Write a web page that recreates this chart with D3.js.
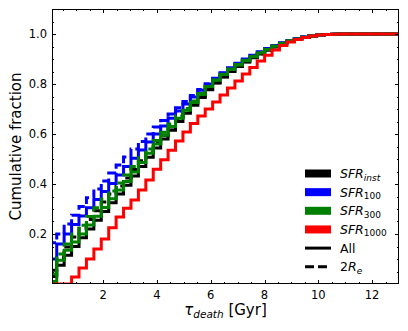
<!DOCTYPE html>
<html>
<head>
<meta charset="utf-8">
<script src="https://cdn.jsdelivr.net/npm/d3@7"></script>
<style>
  body { margin: 0; background: #fff; }
  svg { display: block; font-family: "DejaVu Sans", sans-serif; }
</style>
</head>
<body>
<svg id="chart" width="408" height="331"></svg>
<script>
// bin edges of the cumulative histograms (Gyr)
var binEdges = [0, 0.276, 0.552, 0.828, 1.104, 1.38, 1.656, 1.932, 2.208, 2.484, 2.76, 3.036,
  3.312, 3.588, 3.864, 4.14, 4.416, 4.692, 4.968, 5.244, 5.52, 5.796, 6.072, 6.348, 6.624,
  6.9, 7.176, 7.452, 7.728, 8.004, 8.28, 8.556, 8.832, 9.108, 9.384, 9.66, 9.936, 10.212,
  10.488, 10.764, 11.04, 11.316, 11.592, 11.868, 12.144, 12.42, 12.696, 12.972, 13.248];

// cumulative fraction in each bin
var instAll = [0.030, 0.075, 0.115, 0.150, 0.185, 0.220, 0.255, 0.290, 0.325, 0.360, 0.395, 0.432,
  0.470, 0.507, 0.544, 0.580, 0.615, 0.650, 0.683, 0.715, 0.746, 0.777, 0.804, 0.828, 0.850,
  0.870, 0.888, 0.905, 0.920, 0.935, 0.948, 0.960, 0.970, 0.979, 0.986, 0.992, 0.996, 0.998,
  0.999, 1, 1, 1, 1, 1, 1, 1, 1, 1];
var inst2Re = [0.055, 0.105, 0.148, 0.188, 0.223, 0.258, 0.293, 0.328, 0.360, 0.392, 0.424, 0.458,
  0.493, 0.528, 0.562, 0.595, 0.628, 0.660, 0.690, 0.720, 0.750, 0.778, 0.805, 0.829, 0.851,
  0.871, 0.889, 0.906, 0.921, 0.936, 0.949, 0.961, 0.971, 0.980, 0.987, 0.992, 0.996, 0.998,
  0.999, 1, 1, 1, 1, 1, 1, 1, 1, 1];
var sfr100All = [0.100, 0.160, 0.200, 0.238, 0.272, 0.305, 0.338, 0.370, 0.402, 0.436, 0.470, 0.503,
  0.536, 0.568, 0.600, 0.632, 0.663, 0.692, 0.720, 0.748, 0.775, 0.800, 0.823, 0.845, 0.865,
  0.883, 0.900, 0.915, 0.929, 0.942, 0.954, 0.965, 0.974, 0.982, 0.988, 0.993, 0.996, 0.998,
  0.999, 1, 1, 1, 1, 1, 1, 1, 1, 1];
var sfr1002Re = [0.165, 0.200, 0.240, 0.275, 0.310, 0.345, 0.380, 0.412, 0.444, 0.476, 0.508, 0.540,
  0.570, 0.600, 0.628, 0.654, 0.680, 0.705, 0.730, 0.754, 0.778, 0.800, 0.822, 0.843, 0.862,
  0.880, 0.897, 0.912, 0.926, 0.940, 0.952, 0.963, 0.973, 0.981, 0.988, 0.993, 0.996, 0.998,
  0.999, 1, 1, 1, 1, 1, 1, 1, 1, 1];
var sfr300All = [0.010, 0.095, 0.135, 0.168, 0.200, 0.236, 0.271, 0.306, 0.341, 0.376, 0.410, 0.448,
  0.486, 0.523, 0.560, 0.595, 0.630, 0.663, 0.695, 0.726, 0.758, 0.790, 0.815, 0.838, 0.858,
  0.876, 0.893, 0.909, 0.924, 0.938, 0.951, 0.962, 0.972, 0.980, 0.987, 0.992, 0.996, 0.998,
  0.999, 1, 1, 1, 1, 1, 1, 1, 1, 1];
var sfr3002Re = [0.040, 0.120, 0.160, 0.200, 0.235, 0.270, 0.305, 0.340, 0.372, 0.404, 0.436, 0.470,
  0.505, 0.540, 0.574, 0.607, 0.640, 0.672, 0.702, 0.732, 0.762, 0.790, 0.816, 0.839, 0.860,
  0.878, 0.895, 0.911, 0.926, 0.940, 0.952, 0.963, 0.973, 0.981, 0.987, 0.992, 0.996, 0.998,
  0.999, 1, 1, 1, 1, 1, 1, 1, 1, 1];
var sfr1000All = [0, 0, 0, 0.028, 0.064, 0.100, 0.140, 0.180, 0.225, 0.268, 0.303, 0.336,
  0.376, 0.416, 0.459, 0.497, 0.535, 0.572, 0.608, 0.642, 0.672, 0.700, 0.728, 0.756, 0.784,
  0.812, 0.840, 0.866, 0.892, 0.915, 0.936, 0.954, 0.968, 0.978, 0.986, 0.992, 0.996, 0.998,
  0.999, 1, 1, 1, 1, 1, 1, 1, 1, 1];

var xTicks = [2, 4, 6, 8, 10, 12];
var yTicks = [0.2, 0.4, 0.6, 0.8, 1.0];

(function () {
  var series = [
    { vals: instAll, color: "#000000", dash: null },
    { vals: inst2Re, color: "#000000", dash: "9,4" },
    { vals: sfr100All, color: "#0000ff", dash: null },
    { vals: sfr1002Re, color: "#0000ff", dash: "9,4" },
    { vals: sfr300All, color: "#008000", dash: null },
    { vals: sfr3002Re, color: "#008000", dash: "9,4" },
    { vals: sfr1000All, color: "#ff0000", dash: null }
  ];

  var m = { left: 52, right: 399, top: 9, bottom: 284 };

  var x = d3.scaleLinear().domain([0.1, 13]).range([m.left, m.right]);
  var y = d3.scaleLinear().domain([0, 1.1]).range([m.bottom, m.top]);

  var svg = d3.select("#chart");

  svg.append("clipPath").attr("id", "clip")
    .append("rect")
    .attr("x", m.left).attr("y", m.top)
    .attr("width", m.right - m.left).attr("height", m.bottom - m.top);

  var line = d3.line()
    .x(d => x(d[0]))
    .y(d => y(d[1]))
    .curve(d3.curveStepAfter);

  var g = svg.append("g").attr("clip-path", "url(#clip)");

  series.forEach(function (s) {
    var pts = s.vals.map((v, i) => [binEdges[i], v]);
    pts.unshift([binEdges[0], 0]);
    pts.push([binEdges[s.vals.length], s.vals[s.vals.length - 1]]);
    g.append("path")
      .attr("d", line(pts))
      .attr("fill", "none")
      .attr("stroke", s.color)
      .attr("stroke-width", 3)
      .attr("stroke-dasharray", s.dash);
  });

  // ticks, pointing inward on all four sides
  var xMinor = d3.range(0.5, 13, 0.5);
  var yMinor = d3.range(1, 22).map(i => i * 0.05);
  var ticks = svg.append("g").attr("stroke", "#000").attr("stroke-width", 1);

  xMinor.forEach(function (t) {
    var len = xTicks.indexOf(t) >= 0 ? 4 : 2;
    var px = Math.round(x(t)) + 0.5;
    ticks.append("line").attr("x1", px).attr("x2", px).attr("y1", m.bottom).attr("y2", m.bottom - len);
    ticks.append("line").attr("x1", px).attr("x2", px).attr("y1", m.top).attr("y2", m.top + len);
  });
  yMinor.forEach(function (t) {
    var major = yTicks.some(v => Math.abs(v - t) < 1e-6);
    var len = major ? 4 : 2;
    var py = Math.round(y(t)) + 0.5;
    ticks.append("line").attr("y1", py).attr("y2", py).attr("x1", m.left).attr("x2", m.left + len);
    ticks.append("line").attr("y1", py).attr("y2", py).attr("x1", m.right).attr("x2", m.right - len);
  });

  svg.append("rect")
    .attr("x", m.left + 0.5).attr("y", m.top + 0.5)
    .attr("width", m.right - m.left - 1).attr("height", m.bottom - m.top - 1)
    .attr("fill", "none").attr("stroke", "#000").attr("stroke-width", 1);

  svg.selectAll(".xlab").data(xTicks).enter().append("text")
    .attr("x", d => x(d)).attr("y", 299)
    .attr("text-anchor", "middle").attr("font-size", 11.5)
    .text(d => d);

  svg.selectAll(".ylab").data(yTicks).enter().append("text")
    .attr("x", 47).attr("y", d => y(d) + 4)
    .attr("text-anchor", "end").attr("font-size", 11.5)
    .text(d => d.toFixed(1));

  svg.append("text")
    .attr("transform", "translate(21," + (m.top + m.bottom) / 2 + ")rotate(-90)")
    .attr("text-anchor", "middle").attr("font-size", 15)
    .text("Cumulative fraction");

  var xl = svg.append("text")
    .attr("x", (m.left + m.right) / 2).attr("y", 315)
    .attr("text-anchor", "middle").attr("font-size", 15);
  xl.append("tspan").attr("font-style", "italic").text("τ");
  xl.append("tspan").attr("font-style", "italic").attr("font-size", 10.5).attr("dy", 3).text("death");
  xl.append("tspan").attr("dy", -3).text(" [Gyr]");

  // legend
  var legendItems = [
    { sub: "inst", color: "#000000", italicSub: true },
    { sub: "100", color: "#0000ff" },
    { sub: "300", color: "#008000" },
    { sub: "1000", color: "#ff0000" }
  ];
  var rowY = 173.5, rowStep = 18.65;
  var leg = svg.append("g");

  legendItems.forEach(function (d, i) {
    var cy = rowY + i * rowStep;
    leg.append("rect").attr("x", 305).attr("y", cy - 4).attr("width", 26).attr("height", 8)
      .attr("fill", d.color);
    var t = leg.append("text").attr("x", 340).attr("y", cy + 4.5).attr("font-size", 12.5);
    t.append("tspan").attr("font-style", "italic").text("SFR");
    t.append("tspan").attr("font-size", 9).attr("dy", 2.5)
      .attr("font-style", d.italicSub ? "italic" : "normal").text(d.sub);
  });

  var cyAll = rowY + 4 * rowStep, cyRe = rowY + 5 * rowStep;
  leg.append("line").attr("x1", 305).attr("x2", 331).attr("y1", cyAll).attr("y2", cyAll)
    .attr("stroke", "#000").attr("stroke-width", 3);
  leg.append("text").attr("x", 340).attr("y", cyAll + 4.5).attr("font-size", 12.5).text("All");
  leg.append("line").attr("x1", 305).attr("x2", 331).attr("y1", cyRe).attr("y2", cyRe)
    .attr("stroke", "#000").attr("stroke-width", 3).attr("stroke-dasharray", "9,4");
  var tr = leg.append("text").attr("x", 340).attr("y", cyRe + 4.5).attr("font-size", 12.5);
  tr.append("tspan").text("2");
  tr.append("tspan").attr("font-style", "italic").text("R");
  tr.append("tspan").attr("font-style", "italic").attr("font-size", 9).attr("dy", 2.5).text("e");
})();
</script>
</body>
</html>
